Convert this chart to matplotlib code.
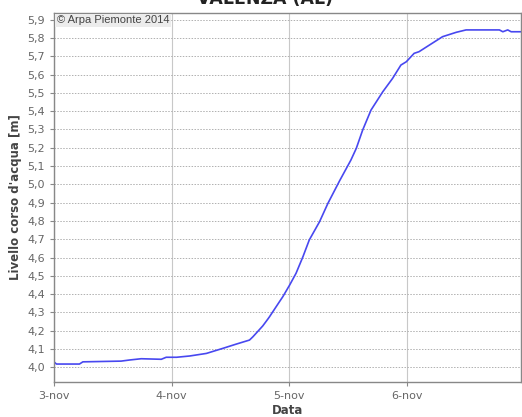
import matplotlib
matplotlib.use("Agg")
import matplotlib.pyplot as plt
from matplotlib.ticker import FixedLocator, FuncFormatter

# hours since 3-nov 00:00 and water level [m]
hours = [0.0, 0.5, 5.2, 5.9, 13.7, 15.4, 17.8, 21.9, 22.9, 25.0, 27.7, 31.1,
         34.5, 37.2, 39.9, 40.6, 42.6, 43.6, 44.0, 46.0, 46.7, 48.1, 49.4,
         50.8, 52.1, 54.2, 55.9, 58.3, 60.6, 61.7, 63.0, 64.7, 67.1, 69.1,
         70.8, 71.9, 73.5, 74.5, 76.6, 79.3, 82.1, 84.1, 90.9, 91.6, 92.6,
         93.3, 95.4]
level = [4.03, 4.018, 4.018, 4.03, 4.034, 4.04, 4.047, 4.044, 4.055, 4.055,
         4.062, 4.076, 4.104, 4.127, 4.149, 4.167, 4.226, 4.262, 4.277, 4.358,
         4.386, 4.45, 4.514, 4.604, 4.696, 4.796, 4.896, 5.02, 5.133, 5.197,
         5.297, 5.406, 5.506, 5.579, 5.652, 5.67, 5.716, 5.725, 5.761, 5.807,
         5.831, 5.844, 5.844, 5.834, 5.844, 5.834, 5.834]

day_ticks = [0, 24, 48, 72]
day_labels = ["3-nov", "4-nov", "5-nov", "6-nov"]
y_ticks = [4.0, 4.1, 4.2, 4.3, 4.4, 4.5, 4.6, 4.7, 4.8, 4.9, 5.0,
           5.1, 5.2, 5.3, 5.4, 5.5, 5.6, 5.7, 5.8, 5.9]

plt.rcParams['font.family'] = ['DejaVu Sans']

fig = plt.figure(figsize=(5.22, 4.17), dpi=100)
ax = fig.add_axes([0.1034, 0.084, 0.8946, 0.8855])

ax.plot(hours, level, color="#4848f0", linewidth=1.2)

ax.set_xlim(0, 95.3)
ax.set_ylim(3.92, 5.938)

ax.xaxis.set_major_locator(FixedLocator(day_ticks))
ax.set_xticklabels(day_labels)
ax.yaxis.set_major_locator(FixedLocator(y_ticks))
ax.yaxis.set_major_formatter(FuncFormatter(lambda v, p: ("%.1f" % v).replace(".", ",")))

ax.grid(axis="x", color="#c8c8c8", linestyle="-", linewidth=0.8)
ax.grid(axis="y", color="#b0b0b0", linestyle=(0, (1.5, 1.5)), linewidth=0.7)

for s in ax.spines.values():
    s.set_color("#888888")
    s.set_linewidth(1.0)

ax.tick_params(axis="both", colors="#888888", labelcolor="#666666",
               labelsize=8, length=3, width=0.8)

ax.set_xlabel("Data", fontsize=8.5, fontweight="bold", color="#444444", labelpad=2)
ax.set_ylabel("Livello corso d'acqua [m]", fontsize=8.5, fontweight="bold",
              color="#444444", labelpad=4)

ax.text(0.006, 0.993, "\u00a9 Arpa Piemonte 2014", transform=ax.transAxes,
        ha="left", va="top", fontsize=8, color="#444444",
        family="Liberation Sans",
        bbox=dict(facecolor="#ececec", edgecolor="none", pad=1.0))

# title is cut off at the top edge, as in the original image
fig.text(0.508, 0.9895, "VALENZA (AL)", ha="center", va="baseline",
         fontsize=12.5, fontweight="bold", color="#222222")

fig.savefig("out.png", dpi=100)
